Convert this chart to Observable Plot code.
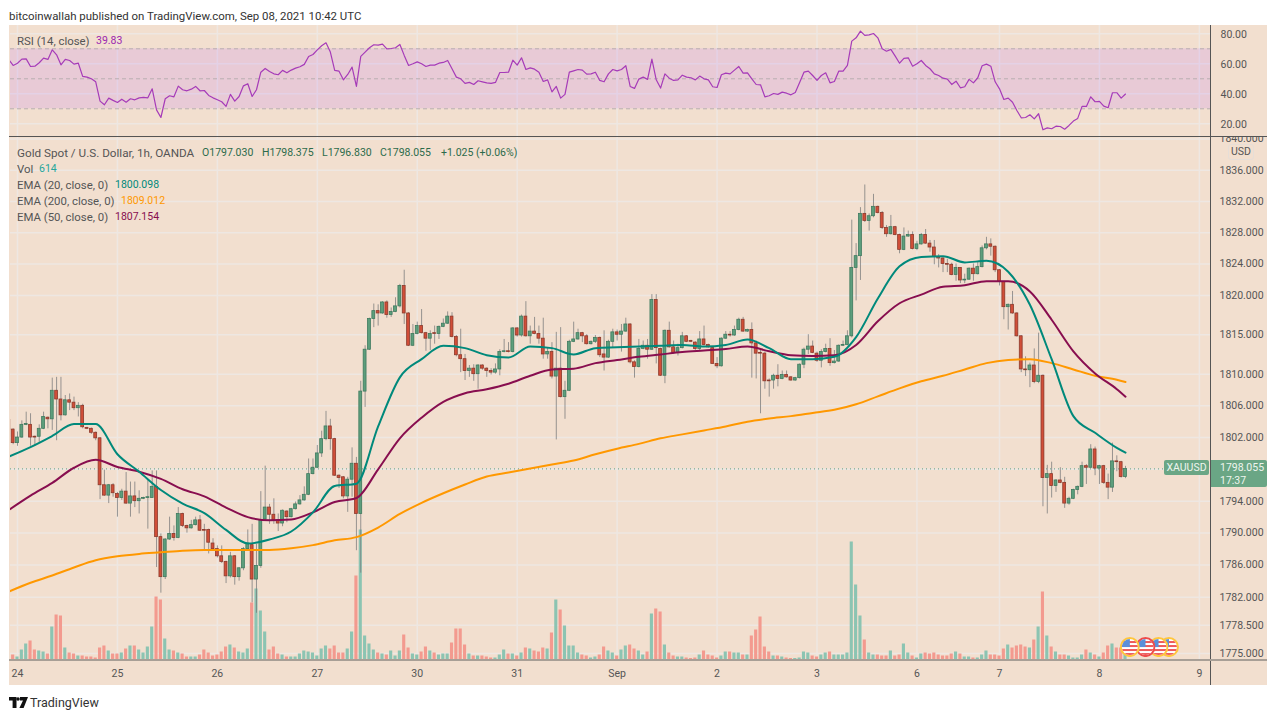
<!DOCTYPE html>
<html>
<head>
<meta charset="utf-8">
<script src="https://cdn.jsdelivr.net/npm/d3@7"></script>
<script src="https://cdn.jsdelivr.net/npm/@observablehq/plot@0.6"></script>
<style>
  body { margin: 0; background: #fff; font-family: Roboto, sans-serif; }
  #page { position: relative; width: 1280px; height: 719px; overflow: hidden; }
  #page > * { position: absolute; }
  #page svg { background: transparent; }
  #canvas { left: 9px; top: 25px; width: 1258px; height: 660px; background: #f2dfcf; }
  .plot { left: 0; }
  .txt { font-size: 10.5px; color: #555; white-space: nowrap; line-height: 14px; }
  .label { font-size: 11.4px; }
  .line { background: #555; }
  .badge { background: #6aa685; color: #eef5ee; font-size: 10.5px; line-height: 13px; }
</style>
</head>
<body>
<div id="page">
  <div id="canvas"></div>
  <div id="gridLayer" class="plot" style="top:137px"></div>
  <div id="volumeLayer" class="plot" style="top:137px"></div>
  <div id="priceLayer" class="plot" style="top:137px"></div>
  <div id="rsiLayer" class="plot" style="top:25px"></div>

  <div class="line" style="left:1210px;top:25px;width:1px;height:660px"></div>
  <div class="line" style="left:9px;top:136px;width:1258px;height:1px"></div>
  <div style="left:9px;top:659px;width:1258px;height:2px;background:#a89f96"></div>

  <div class="txt" style="left:9px;top:9px;color:#333;font-size:11.45px">bitcoinwallah published on TradingView.com, Sep 08, 2021 10:42 UTC</div>
  <div class="txt label" style="left:17px;top:34px">RSI (14, close)</div>
  <div class="txt" style="left:96px;top:34px;color:#9c27b0">39.83</div>
  <div class="txt label" style="left:17px;top:146px;font-size:11.7px">Gold Spot / U.S. Dollar, 1h, OANDA</div>
  <div class="txt" style="left:202px;top:146px;color:#2c6b4b">O1797.030</div>
  <div class="txt" style="left:262px;top:146px;color:#2c6b4b">H1798.375</div>
  <div class="txt" style="left:322px;top:146px;color:#2c6b4b">L1796.830</div>
  <div class="txt" style="left:380px;top:146px;color:#2c6b4b">C1798.055</div>
  <div class="txt" style="left:441px;top:146px;color:#2c6b4b">+1.025 (+0.06%)</div>
  <div class="txt label" style="left:17px;top:162px">Vol</div>
  <div class="txt" style="left:39px;top:162px;color:#26a69a">614</div>
  <div class="txt label" style="left:17px;top:178px">EMA (20, close, 0)</div>
  <div class="txt" style="left:115px;top:178px;color:#00897b">1800.098</div>
  <div class="txt label" style="left:17px;top:194px">EMA (200, close, 0)</div>
  <div class="txt" style="left:121px;top:194px;color:#ff9800">1809.012</div>
  <div class="txt label" style="left:17px;top:210px">EMA (50, close, 0)</div>
  <div class="txt" style="left:115px;top:210px;color:#880e4f">1807.154</div>

  <div class="txt" style="left:1228px;top:144px;width:24px;height:14px;border:1px solid #e6ded8;border-radius:3px;text-align:center">USD</div>
  <div class="badge" style="left:1164px;top:460px;width:45px;height:15px;line-height:15px;border-radius:2px;text-align:center">XAUUSD</div>
  <div class="badge" style="left:1211px;top:460px;width:56px;height:27px;padding:1px 0 0 9px;box-sizing:border-box;border-radius:0 2px 2px 0">1798.055<br>17:37</div>

  <svg style="left:9px;top:697px" width="19" height="11" viewBox="0 0 19 11">
    <path d="M0 0H7.5V11H3.6V3.6H0Z M11 0H19L14.6 11H10.4L14 3.6H11Z" fill="#111"/>
    <circle cx="9" cy="2" r="1.8" fill="#111"/>
  </svg>
  <div class="txt" style="left:30px;top:695px;font-size:12.5px;line-height:16px;color:#333">TradingView</div>
</div>

<script>
// hourly bars, counted from the first bar of the 24th. Rows hold 10 bars
const firstBar = -2;

const opens = [
  1804.2,1803,1801.3,1802,1803.6,1803.6,1802.1,1802.1,1803.1,1804.5,
  1804.3,1807.9,1806.8,1804.8,1806.7,1806.4,1805.7,1806,1803.2,1803.1,
  1802.6,1801.9,1796,1794.7,1796,1794.9,1794.4,1795.2,1793.7,1794.6,
  1794,1794.3,1794.4,1794.4,1795.8,1789.5,1784.5,1789.2,1789.9,1789.4,
  1792.4,1790.9,1790.6,1791,1791.6,1790.4,1790.4,1788.7,1788,1787.1,
  1786.4,1784.6,1787.1,1784.5,1785.6,1788,1788.5,1784.2,1785.9,1791.7,
  1793.2,1792.3,1791.6,1791.2,1792.7,1792,1793,1793.6,1794.1,1794.8,
  1797.4,1798.2,1800,1801.8,1803.4,1801.8,1797.2,1797,1794.6,1796.7,
  1798.7,1792.4,1807.8,1813.1,1817,1818,1817.7,1819.1,1817.5,1817.9,
  1818.6,1821.2,1817.7,1813.6,1815.1,1816.1,1815.2,1814.5,1815.2,1815.1,
  1816,1816.4,1817.3,1814.7,1812.4,1811.9,1810.4,1810.7,1810,1811.1,
  1810.7,1810.4,1810.2,1810.6,1812.8,1812.9,1812.8,1815.8,1814.9,1817.3,
  1814.8,1815.4,1815.1,1814.5,1812.5,1812.8,1809.7,1810.7,1807.1,1807.9,
  1814.1,1814.4,1815.2,1814.8,1813.8,1814.1,1814.6,1812.5,1812.1,1814.1,
  1815.3,1815,1815.4,1816.3,1811.5,1810.9,1813.2,1813.6,1813.1,1819.4,
  1813.2,1809.8,1815.5,1813.4,1812.7,1813.3,1814.8,1814.2,1814,1813.2,
  1814.4,1813.7,1813.3,1811.3,1811,1814.5,1815,1814.9,1815.6,1816.9,
  1815.4,1815.6,1813.9,1812.7,1812.6,1809.2,1809.2,1809.8,1809.4,1809.9,
  1809.6,1809.2,1809.5,1811.2,1813.1,1813.5,1812.6,1811.7,1812.8,1813.2,
  1811.4,1811.6,1813.6,1813.7,1814.8,1823.5,1825,1830.4,1829.5,1830.1,
  1831.3,1830.5,1828.6,1827.8,1828.7,1827.7,1825.8,1827.5,1827.7,1825.9,
  1826.5,1827.7,1826.6,1826.1,1824.9,1824.7,1824,1823.9,1822.6,1823.5,
  1821.9,1822,1823.4,1822.7,1823.6,1826,1826.5,1826.2,1823.2,1821.7,
  1818.5,1818.8,1817.7,1814.8,1810.6,1810.5,1811.1,1809,1809.8,1796.9,
  1797.4,1795.9,1796.6,1796.3,1793.7,1794.3,1795.4,1795.8,1798.4,1798.2,
  1800.5,1798.1,1798.4,1796.3,1795.7,1799,1798.9,1797.03
];
const highs = [
  1804.3,1803.1,1802.7,1804.1,1805.2,1805,1802.2,1803.6,1805.2,1804.6,
  1809.5,1809.6,1809.6,1807.3,1807.5,1807.1,1806.4,1806.2,1803.3,1803.2,
  1802.7,1802,1797.9,1796.1,1796.2,1795.1,1795.5,1797.6,1796.4,1796.4,
  1795.3,1794.5,1796.6,1797.8,1797.8,1789.9,1789.3,1792,1790.9,1793.2,
  1792.5,1791,1791.6,1792,1792.2,1791.1,1790.5,1789.3,1788.4,1788.4,
  1786.5,1787.6,1787.2,1785.7,1788.2,1790.4,1791.1,1788.6,1795.2,1798.4,
  1793.6,1794.3,1792.4,1792.9,1792.8,1793.1,1793.9,1794.7,1795.8,1799.3,
  1799.3,1801,1802.8,1805.3,1804.3,1801.9,1797.3,1797.1,1797,1800.7,
  1799.5,1809.1,1813.6,1817.1,1818.9,1818.8,1819.2,1819.3,1818.4,1819.7,
  1821.4,1823.2,1817.8,1816.3,1816.6,1818.2,1815.3,1815.5,1816.1,1816.1,
  1817,1817.9,1817.8,1814.9,1815.7,1812.5,1811.1,1811.2,1811.2,1811.2,
  1810.8,1810.7,1811.3,1813.1,1814.4,1814,1815.9,1815.9,1817.5,1819.2,
  1816.1,1817.2,1816.1,1817.1,1813.3,1814,1815.3,1815.9,1809.1,1814.3,
  1816.6,1815.7,1815.3,1815,1814.2,1814.9,1814.7,1815.5,1814.3,1815.7,
  1815.6,1816.3,1817.1,1816.4,1811.7,1814.4,1814.2,1814.4,1820.1,1820.1,
  1813.3,1815.6,1816.6,1814.2,1813.8,1815.3,1814.9,1814.3,1814.1,1815.4,
  1816.1,1813.8,1813.4,1812.1,1814.6,1815.4,1815.4,1816.1,1817.1,1817.2,
  1815.7,1816.5,1814.2,1813.2,1812.8,1809.4,1810,1811.2,1810.4,1810.4,
  1809.7,1809.6,1811.3,1813.3,1815,1814.2,1812.8,1813.1,1813.8,1814.5,
  1813,1813.7,1814.2,1815.5,1829.6,1826.6,1831.2,1834.1,1830.4,1832.9,
  1831.4,1830.7,1828.9,1830.2,1828.8,1827.8,1828.6,1828.2,1828.1,1826.9,
  1827.9,1828.4,1827,1827,1825.2,1824.8,1824.6,1824.1,1824,1823.5,
  1822.7,1823.5,1824,1824.3,1826.3,1827.4,1827.2,1826.3,1823.3,1821.7,
  1818.9,1820.5,1817.8,1814.9,1812.2,1811.4,1813.2,1815.2,1809.9,1798.5,
  1798.9,1796.7,1798.2,1797,1794.5,1795.5,1795.9,1798.9,1798.6,1801.1,
  1800.8,1798.5,1798.5,1797.4,1801.3,1799.7,1799,1798.375
];
const lows = [
  1802.9,1801.1,1800.9,1801.9,1803.5,1800.9,1800.9,1801.4,1803,1803.1,
  1802.9,1801.6,1804.1,1804.7,1805.4,1805.4,1804.6,1803.1,1803,1802.4,
  1801.6,1794.2,1794.6,1793.7,1794.5,1792,1794.1,1793.6,1792,1793.2,
  1792.4,1794.2,1790.5,1794.4,1785.7,1782.5,1784.2,1789.1,1789,1789.3,
  1790.7,1790,1790.5,1790.9,1790.2,1787.9,1787.4,1787.8,1786.9,1786.2,
  1783.7,1784.4,1783.5,1784,1785.3,1787.8,1781.3,1780,1785.6,1791.6,
  1791.1,1791.1,1790.2,1790.8,1791.3,1791.9,1792.9,1793.5,1794,1794.7,
  1797.3,1798.1,1799.5,1801.6,1800.4,1797.1,1795.6,1794.3,1792.6,1794.5,
  1787.8,1785,1805.8,1813,1815.9,1816.1,1817.6,1817.1,1817.2,1817.8,
  1818.4,1816.3,1813.5,1813.5,1815,1815.1,1812.9,1813,1813.8,1814.4,
  1815.9,1816.3,1814.6,1812.2,1810.2,1809.2,1809.6,1809.1,1808.1,1810.5,
  1809.6,1809.9,1810,1809.8,1812.7,1812.7,1812.7,1814.7,1814.7,1814.7,
  1813.8,1815,1813.8,1811.9,1811.9,1809.4,1801.7,1807,1804.3,1807.8,
  1814,1814.3,1814,1813.7,1813.7,1813.9,1812.1,1810.4,1812,1813.3,
  1814.2,1812.8,1815.3,1811.3,1809.5,1810.8,1813.1,1811.9,1813,1811.3,
  1809.7,1808.8,1813.3,1812.5,1812.3,1813.2,1814,1814,1813,1813,
  1813.6,1813.3,1811.3,1810.7,1810.9,1814.4,1814.7,1814.8,1815.5,1815.3,
  1815.3,1809.5,1809.4,1805,1808.1,1807.1,1808.1,1808.4,1809.3,1809.5,
  1809.1,1809.1,1809.4,1810.7,1812.5,1812.6,1811.5,1810.8,1812.7,1811,
  1811.3,1811.5,1813.5,1813.6,1814.6,1819.3,1821.9,1829.3,1828.2,1829.9,
  1830.4,1828.4,1827.4,1827.7,1827.6,1825.3,1825.7,1827.4,1825.8,1825.7,
  1826.4,1826.5,1825.5,1823.9,1823.5,1822.9,1822.9,1822.5,1821.8,1821.5,
  1821.5,1821.9,1821.8,1822.6,1823.5,1825.8,1825,1822.9,1821.2,1816.9,
  1815.6,1817.6,1814.7,1810.2,1809.7,1808.3,1808.8,1808.8,1793.3,1792.4,
  1794.4,1795.1,1796.2,1793.1,1793.5,1794.2,1794.8,1795.7,1796.1,1798.1,
  1797.2,1796.1,1796.1,1794.2,1795.1,1797.7,1796.9,1796.83
];
const closes = [
  1803,1801.3,1802,1803.6,1803.7,1802,1802,1803.1,1804.6,1804.3,
  1807.9,1806.8,1804.8,1806.7,1806.4,1805.7,1806,1803.3,1803.1,1802.6,
  1801.9,1796,1794.7,1796,1795,1794.4,1795.2,1793.7,1794.6,1794,
  1794.3,1794.4,1794.5,1795.8,1789.5,1784.5,1789.2,1789.9,1789.4,1792.4,
  1790.9,1790.6,1791,1791.6,1790.3,1790.3,1788.8,1788,1787.1,1786.4,
  1784.6,1787.1,1784.5,1785.6,1788,1788.7,1784.2,1785.9,1791.6,1793.2,
  1792.3,1791.6,1791.2,1792.8,1792,1793,1793.6,1794.1,1794.8,1797.4,
  1798.2,1800,1801.8,1803.4,1801.8,1797.2,1796.9,1794.6,1796.7,1798.7,
  1792.4,1807.8,1813.1,1817,1818,1817.7,1819.1,1817.5,1817.9,1818.6,
  1821.2,1817.7,1813.6,1815.1,1816.1,1815.2,1814.5,1815.1,1815.1,1816,
  1816.4,1817.3,1814.7,1812.4,1811.9,1810.4,1810.7,1810,1811.1,1810.7,
  1810.4,1810.2,1810.6,1812.8,1812.9,1812.8,1815.8,1814.9,1817.3,1814.8,
  1815.4,1815.1,1814.5,1812.5,1812.8,1809.7,1810.7,1807.1,1807.9,1814.1,
  1814.4,1815.2,1814.8,1813.8,1814.1,1814.6,1812.4,1812.1,1814.1,1815.3,
  1815,1815.4,1816.3,1811.5,1810.9,1813.2,1813.6,1813.1,1819.4,1813.3,
  1809.8,1815.5,1813.4,1812.7,1813.3,1814.8,1814.1,1814.1,1813.2,1814.4,
  1813.7,1813.4,1811.3,1811,1814.5,1815,1814.9,1815.6,1816.9,1815.4,
  1815.6,1813.9,1812.6,1812.6,1809.1,1809.1,1809.8,1809.4,1809.9,1809.6,
  1809.2,1809.5,1811.2,1813.1,1813.5,1812.7,1811.7,1812.8,1813.2,1811.4,
  1811.6,1813.6,1813.7,1814.8,1823.5,1825,1830.4,1829.5,1830.1,1831.3,
  1830.5,1828.6,1827.8,1828.7,1827.7,1825.8,1827.5,1827.7,1825.9,1826.5,
  1827.7,1826.6,1826.1,1824.9,1824.7,1824,1823.9,1822.6,1823.5,1821.9,
  1822,1823.4,1822.7,1823.6,1826,1826.5,1826.2,1823.2,1821.7,1818.5,
  1818.8,1817.7,1814.8,1810.6,1810.5,1811.1,1809,1809.8,1796.9,1797.4,
  1795.9,1796.6,1796.3,1793.7,1794.3,1795.4,1795.8,1798.4,1798.2,1800.5,
  1798.1,1798.4,1796.3,1795.7,1799,1798.9,1797.03,1798.055
];
// volume in hundreds
const volumes = [
  7,5,3,10,16,19,10,9,8,6,
  33,45,44,12,7,6,4,4,3,3,
  2,12,14,9,6,6,7,11,14,14,
  10,7,13,33,63,60,21,10,9,7,
  6,3,3,3,5,10,7,4,5,8,
  13,15,12,8,7,11,57,71,49,28,
  10,13,6,5,3,3,3,6,9,8,
  7,4,11,14,11,14,7,7,11,28,
  84,130,24,16,10,7,6,5,9,4,
  9,25,12,6,5,8,13,9,7,5,
  6,6,17,31,31,15,6,4,4,4,
  3,2,2,5,10,6,6,4,7,12,
  11,9,8,12,11,27,60,50,34,14,
  14,7,5,4,2,3,5,13,9,7,
  4,10,14,15,11,9,5,8,46,51,
  48,15,7,4,3,3,2,1.5,2,5,
  9,5,4,2,4,8,8,7,7,5,
  5,24,30,43,13,8,4,4,3,2,
  1.5,1.5,2,8,7,4,3,5,7,8,
  5,5,5,7,118,75,44,20,7,5,
  5,4,4,9,4,5,16,7,4,2,
  6,7,6,7,5,4,4,6,8,6,
  3,3,2,2,5,9,5,5,4,11,
  15,12,14,15,13,12,20,33,68,24,
  13,8,5,5,4,2,2,5,10,7,
  5,3,7,14,16,12,12,6.14
];
const rsiValues = [
  62.7,58.9,60.4,63.1,63.3,58.2,58.4,60.7,63.8,62.9,
  69.3,66,59.3,62.9,62.2,59.8,60.4,51.6,51.1,50,
  48,35.1,32.7,37.1,35.6,34.2,36.4,34.4,36.7,36,
  37.3,37.6,37.3,43.3,29.3,24.2,36.7,38.7,38,45.1,
  42.7,42,43.1,44.9,42,42.2,38.9,37.3,36,34.7,
  31.6,39.6,35.1,38.2,45.3,46.7,38.2,42.7,54.4,56.9,
  54.9,53.3,52.7,55.6,54,55.8,57.1,58,59.6,64.9,
  66.2,69.3,72,74,67.8,55.6,55.1,49.3,52.9,57.8,
  44.9,64.9,67.8,70.7,72.7,72.4,73.1,70,70.2,70.7,
  72.9,65.6,58.9,60,61.3,60,58.2,59.1,59.1,60.4,
  60.9,62.2,56.7,51.1,50,46.9,47.6,46.2,48.7,48,
  47.3,46.9,47.6,54.2,54.2,54.4,62.4,59.1,64,56.2,
  57.3,56.4,54.4,48.2,49.3,41.3,44.9,37.1,39.6,54.4,
  55.3,56.2,55.8,53.1,53.3,54.4,48.9,48,53.3,56.2,
  55.3,56.2,58.7,44.9,43.6,49.8,51.1,49.6,63.1,49.3,
  43.8,53.3,50.4,48.9,49.3,52.4,51.1,50.7,49.3,51.8,
  50,49.3,44.7,44.2,52.7,53.8,53.3,55.8,58.2,53.8,
  54,50,46.2,46,38,38.7,40.2,39.6,41.1,40.4,
  39.3,40.9,47.6,54.4,55.1,52.2,48.9,52.2,54,47.3,
  48.2,55.1,55.1,58.9,75.1,77.3,81.8,78.9,79.3,80.2,
  77.3,70,68.4,69.6,65.1,60.4,63.6,64,58.4,60,
  62.2,58.9,56.7,53.3,52.2,50.4,49.8,46.2,48.4,44,
  44.7,49.6,47.3,50.7,58.7,59.8,58.4,48,43.3,36.2,
  37.1,34.4,28.9,24,24.2,26,23.3,26.7,16,17.3,
  16.7,18.4,18.2,16.4,18.9,21.8,23.6,31.6,31.6,38,
  34.7,34.9,31.8,30.7,40.7,40.7,37.1,39.83
];

// the EMA lines, read every 5 bars
const emaBars = [-2,3,8,13,18,23,28,33,38,43,48,53,58,63,68,73,78,83,88,93,98,103,108,113,118,123,128,133,138,143,148,153,158,163,168,173,178,183,188,193,198,203,208,213,218,223,228,233,238,243,248,253,255];
const ema20 = [1799.6,1800.8,1802.2,1803.7,1803.7,1799.9,1797.7,1795.4,1793.7,1792.5,1790.4,1788.7,1789.2,1790.2,1792.6,1795.9,1796.2,1803.4,1809.6,1811.9,1813.6,1813.3,1812.4,1812.1,1813.5,1813.3,1812.5,1813.3,1813.4,1813.5,1813.6,1813.7,1813.5,1813.7,1814.4,1813.3,1811.9,1811.9,1812.2,1814.7,1819.6,1823.7,1824.9,1825,1824.2,1824.4,1823,1818.8,1811.9,1804.7,1802.6,1800.7,1800.098];
const ema50 = [1792.9,1794.7,1796.3,1798.2,1799.2,1798.3,1797.7,1796.8,1795.5,1794.6,1793.2,1792,1791.6,1791.7,1792.6,1793.9,1794.4,1798,1801.9,1804.5,1806.5,1807.6,1808.1,1808.8,1809.8,1810.6,1810.7,1811.4,1811.8,1812.2,1812.5,1812.8,1813,1813.2,1813.5,1812.9,1812.4,1812.3,1812.4,1813.7,1816.7,1819,1820.1,1821.1,1821.3,1821.8,1821.8,1820.5,1816.9,1812.9,1810.1,1808.1,1807.154];
const ema200 = [1782.7,1783.8,1784.7,1785.7,1786.6,1787.1,1787.4,1787.6,1787.8,1787.9,1787.9,1787.9,1787.9,1788.1,1788.5,1789.1,1789.5,1790.7,1792.4,1793.8,1795,1796.1,1797.1,1797.6,1798.1,1798.6,1799.1,1799.9,1800.6,1801.2,1801.9,1802.4,1802.9,1803.4,1804,1804.4,1804.7,1805.1,1805.5,1806.2,1807.2,1808.2,1809.1,1809.8,1810.6,1811.4,1811.8,1811.9,1811.4,1810.6,1809.8,1809.3,1809.012];

const lastPrice = 1798.055;
const dayBars = [0,23,46,69,92,115,138,161,184,207,226,249,272];
const dayLabels = ["24","25","26","27","30","31","Sep","2","3","6","7","8","9"];
const priceTicks = [1775,1778.5,1782,1786,1790,1794,1798,1802,1806,1810,1815,1820,1824,1828,1832,1836,1840];
// the 1798 label sits behind the last price badge
const priceLabels = priceTicks.filter(d => d !== 1798);
const rsiTicks = [20,40,60,80];
const rsiBand = [30,50,70];
const eventBars = [265,262.6,259.6,256];
const eventRings = ["#ffc63d","#ffc63d","#ee4c4c","#ffc63d"];
const eventPrice = 1775.8;

const bars = opens.map((open, i) => ({
  bar: i + firstBar,
  open,
  high: highs[i],
  low: lows[i],
  close: closes[i],
  volume: volumes[i],
  rsi: rsiValues[i],
  up: closes[i] >= open
}));

const emaLine = values => emaBars.map((bar, i) => ({bar, value: values[i]}));

// little round flag for the economic events at the end of the chart
const flagIcon = ring => "data:image/svg+xml," + encodeURIComponent(
  `<svg xmlns="http://www.w3.org/2000/svg" viewBox="0 0 20 20">
    <clipPath id="c"><circle cx="10" cy="10" r="8"/></clipPath>
    <circle cx="10" cy="10" r="9" fill="#fff" stroke="${ring}" stroke-width="2"/>
    <g clip-path="url(#c)" fill="#ee5a5a">
      <rect x="0" y="4" width="20" height="2"/><rect x="0" y="8" width="20" height="2"/>
      <rect x="0" y="12" width="20" height="2"/><rect x="0" y="16" width="20" height="2"/>
      <rect x="1" y="2" width="9" height="8" fill="#5b8fd9"/>
    </g></svg>`);
const events = eventBars.map((bar, i) => ({bar, price: eventPrice, src: flagIcon(eventRings[i])}));

const green = "#5d9e7c", greenEdge = "#3f7a5f", red = "#d14e38", redEdge = "#8c3a2c";
const gridColor = "#eee7e2", axisColor = "#555";

// x scale shared by every layer
const xScale = {domain: [-1.611, 274.56], axis: null};
const frame = {width: 1280, marginLeft: 10, marginRight: 70, marginTop: 0, style: {background: "transparent", fontFamily: "Roboto, sans-serif", fontSize: "10.5px"}};
const priceFrame = {...frame, height: 548, marginBottom: 25, x: xScale, y: {type: "log", domain: [1774.13, 1840.2], axis: null}};

const gridPlot = Plot.plot({
  ...priceFrame,
  marks: [
    Plot.gridY(priceTicks, {stroke: gridColor, strokeOpacity: 1, strokeWidth: 1.5}),
    Plot.gridX(dayBars, {stroke: gridColor, strokeOpacity: 1, strokeWidth: 1.5}),
    Plot.axisY(priceLabels, {anchor: "right", label: null, tickSize: 0, tickPadding: 9, tickFormat: d => d.toFixed(3), fill: axisColor}),
    Plot.axisX(dayBars, {anchor: "bottom", label: null, tickSize: 0, tickPadding: 9, tickFormat: (d, i) => dayLabels[i], fill: axisColor, textAnchor: "middle"})
  ]
});
document.querySelector("#gridLayer").append(gridPlot);

// volume has its own scale, so it gets its own layer under the candles
const volumePlot = Plot.plot({
  ...frame,
  height: 548,
  marginBottom: 25.5,
  x: xScale,
  y: {domain: [0, 522.5], axis: null},
  marks: [
    Plot.rectY(bars, {
      x1: d => d.bar - 0.36,
      x2: d => d.bar + 0.36,
      y: "volume",
      fill: d => d.up ? "#8cc4b2" : "#f39a8f",
      clip: true
    })
  ]
});
document.querySelector("#volumeLayer").append(volumePlot);

const pricePlot = Plot.plot({
  ...priceFrame,
  marks: [
    Plot.ruleY([lastPrice], {stroke: "#5f9d80", strokeDasharray: "1,3"}),
    Plot.ruleX(bars, {x: "bar", y1: "low", y2: "high", stroke: "#77787a", strokeOpacity: 0.75, clip: true}),
    Plot.rect(bars, {
      x1: d => d.bar - 0.33,
      x2: d => d.bar + 0.33,
      y1: "open",
      y2: "close",
      fill: d => d.up ? green : red,
      stroke: d => d.up ? greenEdge : redEdge,
      strokeWidth: 0.8,
      clip: true
    }),
    Plot.line(emaLine(ema200), {x: "bar", y: "value", stroke: "#ff9800", strokeWidth: 2, curve: "monotone-x", clip: true}),
    Plot.line(emaLine(ema50), {x: "bar", y: "value", stroke: "#880e4f", strokeWidth: 2, curve: "monotone-x", clip: true}),
    Plot.line(emaLine(ema20), {x: "bar", y: "value", stroke: "#00897b", strokeWidth: 2, curve: "monotone-x", clip: true}),
    Plot.image(events, {x: "bar", y: "price", src: "src", width: 20, height: 20})
  ]
});
document.querySelector("#priceLayer").append(pricePlot);

const rsiPlot = Plot.plot({
  ...frame,
  height: 111,
  marginBottom: 0,
  x: xScale,
  y: {domain: [11.53, 85.53], axis: null},
  marks: [
    Plot.gridY(rsiTicks, {stroke: gridColor, strokeOpacity: 1, strokeWidth: 1.5}),
    Plot.gridX(dayBars, {stroke: gridColor, strokeOpacity: 1, strokeWidth: 1.5}),
    Plot.rect([rsiBand], {x1: xScale.domain[0], x2: xScale.domain[1], y1: d => d[0], y2: d => d[2], fill: "#af59fd", fillOpacity: 0.15}),
    Plot.ruleY(rsiBand, {stroke: "#b8aeb0", strokeDasharray: "4,3"}),
    Plot.axisY(rsiTicks, {anchor: "right", label: null, tickSize: 0, tickPadding: 10, dy: 1, tickFormat: d => d.toFixed(2), fill: axisColor}),
    Plot.line(bars, {x: "bar", y: "rsi", stroke: "#a63bb8", strokeWidth: 1.2, clip: true})
  ]
});
document.querySelector("#rsiLayer").append(rsiPlot);
</script>
</body>
</html>
